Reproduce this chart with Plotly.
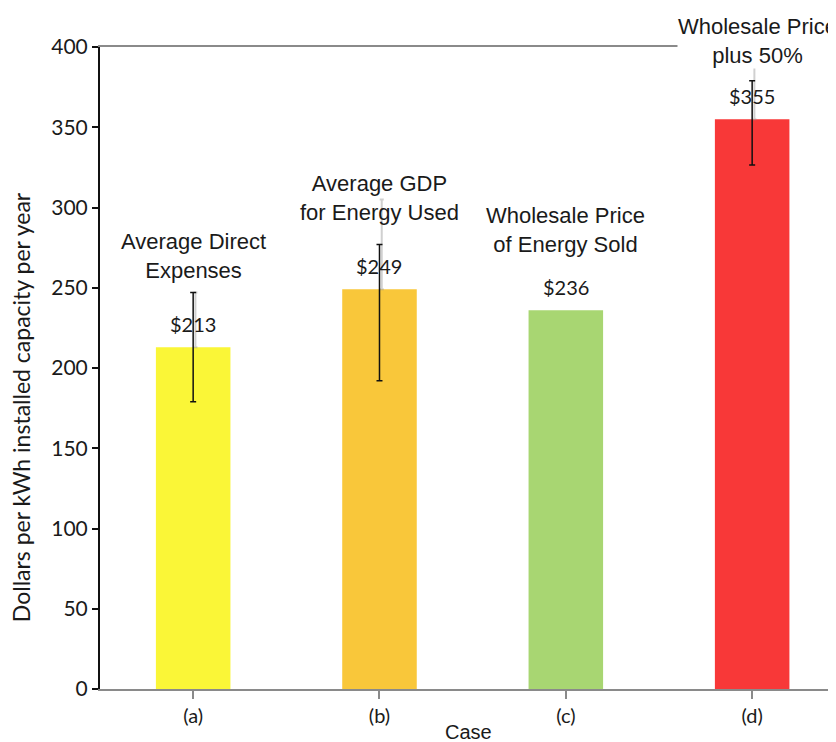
import plotly.graph_objects as go

categories = ["(a)", "(b)", "(c)", "(d)"]
values = [213, 249, 236, 355]
value_labels = ["$213", "$249", "$236", "$355"]
err_plus = [34, 28, None, 24]
err_minus = [34, 57, None, 28.5]
faint_plus = [34, 56, None, 34]
case_names = ["Average Direct<br>Expenses", "Average GDP<br>for Energy Used",
              "Wholesale Price<br>of Energy Sold", "Wholesale Price<br>plus 50%"]
bar_colors = ["#FAF637", "#F9C73A", "#A8D672", "#F83838"]

# layout positions for the case-name annotations (in y-axis units, converted to paper)
case_label_y = [269.5, 306, 286, 404]
Y_MAX = 400

fig = go.Figure()
xs = list(range(len(categories)))

fig.add_trace(go.Bar(
    x=xs, y=values, width=0.4,
    marker=dict(color=bar_colors, line=dict(width=0)),
    showlegend=False,
))

# error bars only for the cases that have them
idx = [i for i in xs if err_plus[i] is not None]
fig.add_trace(go.Scatter(
    x=[i + 0.012 for i in idx], y=[values[i] for i in idx], mode="markers",
    marker=dict(size=1, color="rgba(0,0,0,0)"),
    error_y=dict(type="data", symmetric=False, array=[faint_plus[i] for i in idx],
                 arrayminus=[0 for i in idx],
                 color="rgba(150,150,150,0.45)", thickness=2, width=2),
    showlegend=False, hoverinfo="skip",
))
fig.add_trace(go.Scatter(
    x=idx, y=[values[i] for i in idx], mode="markers",
    marker=dict(size=1, color="rgba(0,0,0,0)"),
    error_y=dict(type="data", symmetric=False, array=[err_plus[i] for i in idx],
                 arrayminus=[err_minus[i] for i in idx],
                 color="#111111", thickness=1.5, width=3),
    showlegend=False, hoverinfo="skip",
))

annotations = []
for i, (v, lab) in enumerate(zip(values, value_labels)):
    annotations.append(dict(x=i, y=v, xref="x", yref="y", text=lab, showarrow=False,
                            yanchor="middle", yshift=23,
                            font=dict(family="Lato", size=20, color="#1a1a1a")))
for i, (name, yy) in enumerate(zip(case_names, case_label_y)):
    annotations.append(dict(x=i + (0.03 if i == 3 else 0), y=yy / Y_MAX, xref="x", yref="paper",
                            text=name, showarrow=False,
                            yanchor="middle", bgcolor="white" if i == 3 else "rgba(0,0,0,0)",
                            borderpad=0,
                            font=dict(family="Liberation Sans, Arial", size=22, color="#1a1a1a")))
annotations.append(dict(x=0.5, y=0, xref="paper", yref="paper", text="Case", showarrow=False,
                        yanchor="middle", yshift=-43,
                        font=dict(family="Liberation Sans, Arial", size=20, color="#1a1a1a")))
annotations.append(dict(x=0, y=0.439, xref="paper", yref="paper",
                        text="Dollars per kWh installed capacity per year", showarrow=False,
                        textangle=-90, xanchor="center", yanchor="middle", xshift=-79,
                        font=dict(family="Lato", size=23, color="#1a1a1a")))

fig.update_layout(
    width=828, height=734,
    margin=dict(l=92, r=0, t=39, b=53),
    paper_bgcolor="white", plot_bgcolor="white",
    annotations=annotations,
    xaxis=dict(range=[-0.5, 3.45], tickmode="array", tickvals=xs, ticktext=categories,
               tickson="boundaries", ticks="outside", ticklen=8, tickwidth=1.5,
               tickcolor="#8a8a8a", showline=True, linecolor="#8a8a8a", linewidth=2,
               mirror=True, showgrid=False, zeroline=False,
               tickfont=dict(family="Lato", size=20, color="#1a1a1a")),
    yaxis=dict(range=[0, Y_MAX], tickvals=[0, 50, 100, 150, 200, 250, 300, 350, 400],
               ticks="outside", ticklen=6, tickwidth=2, tickcolor="#111111",
               showline=True, linecolor="#111111", linewidth=2,
               showgrid=False, zeroline=False,
               tickfont=dict(family="Lato", size=21, color="#1a1a1a")),
)

fig.write_html("out.html")
